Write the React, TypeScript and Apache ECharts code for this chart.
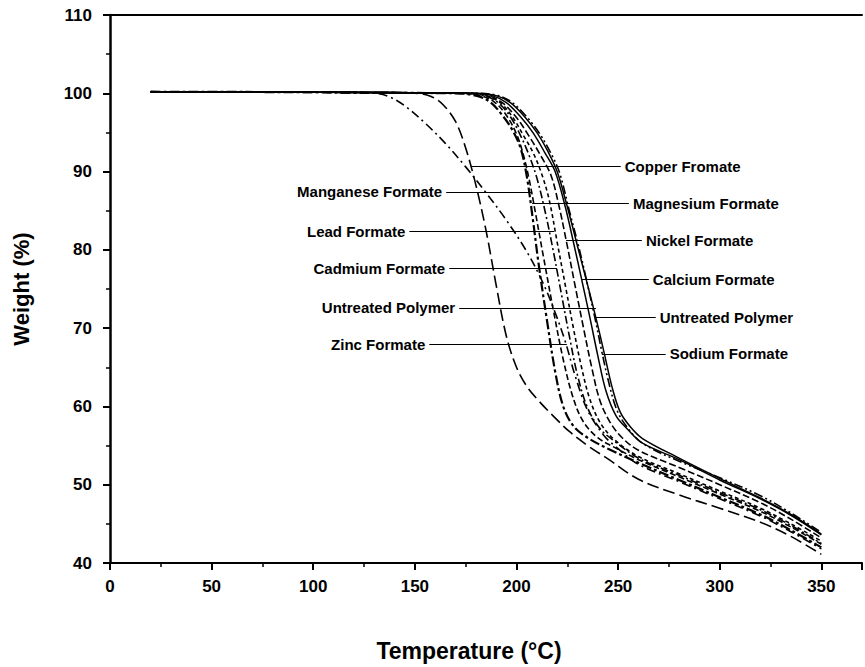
import React, { useEffect, useRef } from "react";
import * as echarts from "echarts";

// ---- axis ticks ----
const xMin = 0;
const xMax = 370;
const xStep = 50;
const yMin = 40;
const yMax = 110;
const yStep = 10;

// ---- curves (temperature °C, weight %) ----
const copperT = [20, 150, 158, 164, 170, 175, 180, 185, 190, 195, 200, 205, 211, 218, 226, 235, 245, 260, 280, 300, 320, 335, 350];
const copperW = [100.2, 100, 99.6, 98.5, 96.4, 93, 88.3, 82.5, 75.5, 69, 65, 62.6, 60.7, 58.8, 56.8, 55, 53.3, 50.7, 48.7, 47, 45.2, 43.4, 41.1];

const zincT = [20, 130, 137, 145, 155, 165, 175, 185, 195, 205, 213, 219, 224, 229, 235, 243, 250, 260, 280, 300, 320, 335, 350];
const zincW = [100.2, 100, 99.6, 98.4, 96.2, 93.6, 90.6, 87.3, 83.8, 79.8, 75.8, 72, 68.3, 63.8, 59.5, 56.3, 54.6, 52.6, 50.4, 48.2, 46, 44, 41.8];

const manganeseT = [20, 170, 180, 187, 193, 198, 202, 205, 208, 211, 215, 219, 223, 228, 235, 245, 260, 280, 300, 320, 335, 350];
const manganeseW = [100.2, 100, 99.7, 98.9, 97.2, 95.3, 93, 89.5, 84, 78, 71, 64.5, 60, 57.5, 56, 54.6, 52.8, 50.6, 48.4, 46.2, 44.2, 42];

const magnesiumT = [20, 172, 182, 189, 195, 200, 203, 206, 209, 213, 218, 223, 228, 233, 240, 248, 260, 280, 300, 320, 335, 350];
const magnesiumW = [100.2, 100, 99.7, 98.9, 97.2, 94.8, 92.5, 89.3, 85.2, 79.5, 72.5, 66, 61, 58, 56, 54.8, 53.2, 51, 48.8, 46.6, 44.6, 42.4];

const leadT = [20, 175, 185, 192, 198, 203, 208, 212, 216, 220, 224, 228, 232, 236, 241, 248, 260, 280, 300, 320, 335, 350];
const leadW = [100.2, 100, 99.7, 98.8, 97, 94.8, 92.5, 90, 86.5, 81, 75.5, 70, 65, 61, 58, 55.8, 53.6, 51.4, 49.2, 47, 45, 42.8];

const cadmiumT = [20, 174, 184, 191, 197, 202, 206, 210, 214, 218, 222, 226, 230, 235, 241, 248, 260, 280, 300, 320, 335, 350];
const cadmiumW = [100.2, 100, 99.7, 98.8, 97, 94.6, 92.2, 89.2, 85, 80, 74.5, 69, 64, 59.8, 57.2, 55.6, 53.4, 51.2, 49, 46.8, 44.8, 42.5];

const nickelT = [20, 176, 186, 193, 200, 206, 212, 217, 221, 225, 229, 233, 237, 241, 246, 252, 260, 280, 300, 320, 335, 350];
const nickelW = [100.2, 100, 99.7, 98.8, 96.9, 94.6, 92, 89.5, 85.5, 80.5, 75.2, 70, 65, 60.8, 58, 56, 54.4, 52.2, 50, 47.7, 45.6, 43.2];

const calciumT = [20, 178, 188, 195, 202, 208, 214, 219, 224, 228, 232, 236, 240, 244, 249, 255, 262, 280, 300, 320, 335, 350];
const calciumW = [100.2, 100, 99.7, 98.8, 97, 95, 92.4, 90, 85.5, 81, 76.3, 71.5, 66.5, 62, 58.8, 57, 55.3, 53.2, 50.6, 48.2, 46.1, 43.6];

const polymerT = [20, 180, 190, 197, 204, 210, 215, 220, 225, 230, 235, 239, 243, 247, 251, 256, 262, 280, 300, 320, 335, 350];
const polymerW = [100.2, 100, 99.7, 98.8, 97, 95, 92.8, 90, 85.5, 80.5, 75.5, 71.4, 67, 62.5, 59.3, 57.4, 55.9, 53.4, 50.8, 48.3, 46.2, 43.7];

const sodiumT = [20, 181, 191, 198, 205, 211, 216, 221, 226, 231, 235, 239, 242, 245, 249, 254, 262, 280, 300, 320, 335, 350];
const sodiumW = [100.2, 100, 99.7, 98.8, 97, 95, 92.8, 90, 85, 80, 75.5, 70.8, 67, 63.5, 59.8, 57.5, 55.3, 53, 50.9, 48.6, 46.4, 43.9];

// ---- annotation labels (leader lines) ----
const leftNames = ["Manganese Formate", "Lead Formate", "Cadmium Formate", "Untreated Polymer", "Zinc Formate"];
const leftPointT = [207.7, 218.5, 219.9, 239.1, 224.8];
const leftLabelT = [165.4, 147.3, 166.9, 171.8, 157.1];
const leftY = [87.4, 82.4, 77.6, 72.6, 67.9];

const rightNames = ["Copper Fromate", "Magnesium Formate", "Nickel Formate", "Calcium Formate", "Untreated Polymer", "Sodium Formate"];
const rightPointT = [177.7, 207.7, 224.4, 232.2, 239.1, 242.0];
const rightLabelT = [251.3, 255.3, 261.7, 265.1, 268.5, 273.4];
const rightY = [90.7, 85.9, 81.2, 76.2, 71.4, 66.7];

const curves = [
  { name: "Copper Formate", t: copperT, w: copperW, dash: [12, 5], width: 1.6 },
  { name: "Zinc Formate", t: zincT, w: zincW, dash: [9, 4, 2, 4], width: 1.6 },
  { name: "Manganese Formate", t: manganeseT, w: manganeseW, dash: [10, 3, 3, 3], width: 2.2 },
  { name: "Magnesium Formate", t: magnesiumT, w: magnesiumW, dash: [6, 3], width: 1.6 },
  { name: "Lead Formate", t: leadT, w: leadW, dash: [4, 3], width: 1.6 },
  { name: "Cadmium Formate", t: cadmiumT, w: cadmiumW, dash: [8, 3, 2, 3], width: 1.6 },
  { name: "Nickel Formate", t: nickelT, w: nickelW, dash: [7, 3], width: 1.6 },
  { name: "Calcium Formate", t: calciumT, w: calciumW, dash: "solid", width: 1.5 },
  { name: "Untreated Polymer", t: polymerT, w: polymerW, dash: "solid", width: 1.5 },
  { name: "Sodium Formate", t: sodiumT, w: sodiumW, dash: [9, 3, 2, 3, 2, 3], width: 1.6 },
];

const FONT = "Liberation Sans, Arial, Helvetica, sans-serif";

export default function App() {
  const ref = useRef<HTMLDivElement>(null);

  useEffect(() => {
    if (!ref.current) return;
    const chart = echarts.init(ref.current, undefined, { renderer: "svg" });

    const lineSeries = curves.map((c) => ({
      type: "line",
      name: c.name,
      data: c.t.map((t, i) => [t, c.w[i]]),
      showSymbol: false,
      symbol: "none",
      smooth: 0.35,
      silent: true,
      lineStyle: { color: "#000", width: c.width, type: c.dash },
      z: 3,
    }));

    const labelStyle = {
      show: true,
      position: "end",
      formatter: "{b}",
      color: "#000",
      fontFamily: FONT,
      fontWeight: "bold",
      fontSize: 15,
      distance: 4,
    };

    const leaderData: any[] = [];
    leftNames.forEach((n, i) => {
      leaderData.push([
        { name: n, coord: [leftPointT[i], leftY[i]] },
        { coord: [leftLabelT[i], leftY[i]] },
      ]);
    });
    rightNames.forEach((n, i) => {
      leaderData.push([
        { name: n, coord: [rightPointT[i], rightY[i]] },
        { coord: [rightLabelT[i], rightY[i]] },
      ]);
    });

    const annotationSeries = {
      type: "line",
      name: "annotations",
      data: [],
      silent: true,
      markLine: {
        silent: true,
        symbol: ["none", "none"],
        animation: false,
        lineStyle: { color: "#000", width: 1, type: "solid" },
        label: labelStyle,
        emphasis: { disabled: true },
        data: leaderData,
      },
    };

    chart.setOption({
      animation: false,
      backgroundColor: "#fff",
      grid: { left: 110, top: 15, bottom: 101, right: 1, containLabel: false },
      xAxis: [
        {
          type: "value",
          min: xMin,
          max: xMax,
          interval: xStep,
          position: "bottom",
          name: "Temperature (°C)",
          nameLocation: "middle",
          nameGap: 76,
          nameTextStyle: {
            fontFamily: FONT,
            fontWeight: "bold",
            fontSize: 23,
            color: "#000",
            padding: [0, 34, 0, 0],
          },
          axisLine: { show: true, onZero: false, lineStyle: { color: "#000", width: 2 } },
          axisTick: { show: true, length: 7, lineStyle: { color: "#000", width: 2 } },
          minorTick: { show: true, splitNumber: 2, length: 4, lineStyle: { color: "#000", width: 1.5 } },
          axisLabel: {
            color: "#000",
            fontFamily: FONT,
            fontWeight: "bold",
            fontSize: 17,
            margin: 15,
            formatter: (v: number) => (v > 350 ? "" : String(v)),
          },
          splitLine: { show: false },
          minorSplitLine: { show: false },
        },
        {
          type: "value",
          min: xMin,
          max: xMax,
          position: "top",
          axisLine: { show: true, onZero: false, lineStyle: { color: "#000", width: 2 } },
          axisTick: { show: false },
          axisLabel: { show: false },
          splitLine: { show: false },
        },
      ],
      yAxis: {
        type: "value",
        min: yMin,
        max: yMax,
        interval: yStep,
        name: "Weight (%)",
        nameLocation: "middle",
        nameGap: 78,
        nameTextStyle: {
          fontFamily: FONT,
          fontWeight: "bold",
          fontSize: 22,
          color: "#000",
        },
        axisLine: { show: true, onZero: false, lineStyle: { color: "#000", width: 2.5 } },
        axisTick: { show: true, length: 7, lineStyle: { color: "#000", width: 2 } },
        minorTick: { show: true, splitNumber: 2, length: 4, lineStyle: { color: "#000", width: 1.5 } },
        axisLabel: {
          color: "#000",
          fontFamily: FONT,
          fontWeight: "bold",
          fontSize: 17,
          margin: 18,
        },
        splitLine: { show: false },
        minorSplitLine: { show: false },
      },
      series: [...lineSeries, annotationSeries],
    });

    return () => {
      chart.dispose();
    };
  }, []);

  return (
    <div
      ref={ref}
      style={{ position: "fixed", left: 0, top: 0, width: 865, height: 667, background: "#fff" }}
    />
  );
}
